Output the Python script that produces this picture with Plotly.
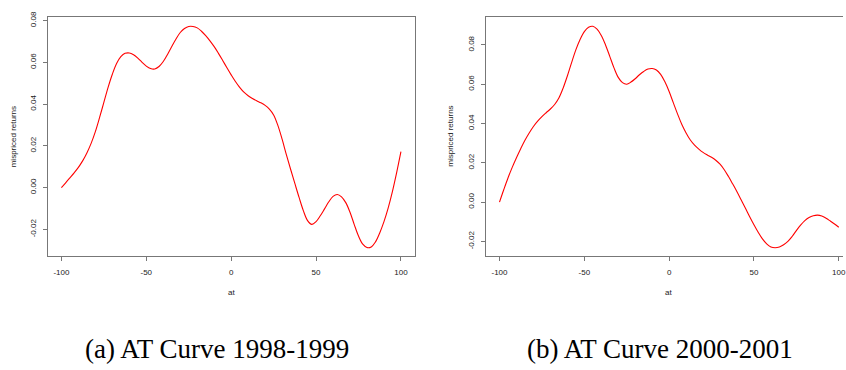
import plotly.graph_objects as go

# abnormal-trading grid shared by both periods (-100 .. 100 in steps of 2.5)
at_grid = [-100 + 2.5 * i for i in range(81)]

# AT curve 1998-1999
ret_a = [0.0000, 0.0023, 0.0047, 0.0071, 0.0097, 0.0128, 0.0166, 0.0212, 0.0268, 0.0336,
         0.0408, 0.0480, 0.0543, 0.0594, 0.0627, 0.0643, 0.0645, 0.0636, 0.0620, 0.0600,
         0.0582, 0.0570, 0.0568, 0.0580, 0.0604, 0.0638, 0.0676, 0.0712, 0.0743, 0.0762,
         0.0772, 0.0772, 0.0765, 0.0749, 0.0728, 0.0703, 0.0675, 0.0643, 0.0609, 0.0574,
         0.0540, 0.0508, 0.0480, 0.0457, 0.0440, 0.0427, 0.0416, 0.0406, 0.0394, 0.0376,
         0.0348, 0.0298, 0.0232, 0.0158, 0.0088, 0.0020, -0.0047, -0.0110, -0.0158, -0.0176,
         -0.0163, -0.0135, -0.0102, -0.0068, -0.0042, -0.0033, -0.0044, -0.0072, -0.0118, -0.0177,
         -0.0232, -0.0271, -0.0287, -0.0284, -0.0260, -0.0217, -0.0163, -0.0097, -0.0018, 0.0073,
         0.0172]

# AT curve 2000-2001
ret_b = [0.0000, 0.0063, 0.0123, 0.0177, 0.0226, 0.0272, 0.0315, 0.0352, 0.0385, 0.0412,
         0.0435, 0.0455, 0.0474, 0.0497, 0.0530, 0.0580, 0.0642, 0.0710, 0.0775, 0.0828,
         0.0868, 0.0890, 0.0895, 0.0880, 0.0848, 0.0800, 0.0742, 0.0683, 0.0635, 0.0608,
         0.0600, 0.0611, 0.0628, 0.0648, 0.0665, 0.0677, 0.0680, 0.0672, 0.0650, 0.0612,
         0.0563, 0.0505, 0.0448, 0.0395, 0.0352, 0.0316, 0.0290, 0.0270, 0.0253, 0.0240,
         0.0228, 0.0213, 0.0193, 0.0165, 0.0130, 0.0092, 0.0053, 0.0011, -0.0031, -0.0074,
         -0.0115, -0.0153, -0.0187, -0.0212, -0.0228, -0.0232, -0.0228, -0.0217, -0.0200, -0.0175,
         -0.0145, -0.0117, -0.0094, -0.0078, -0.0069, -0.0066, -0.0071, -0.0082, -0.0096, -0.0111,
         -0.0128]

x_ticks = [-100, -50, 0, 50, 100]
y_ticks_a = [-0.02, 0.00, 0.02, 0.04, 0.06, 0.08]
y_ticks_b = [-0.02, 0.00, 0.02, 0.04, 0.06, 0.08]
captions = ["(a) AT Curve 1998-1999", "(b) AT Curve 2000-2001"]

W, H = 846, 370
tick_font = dict(family="Liberation Sans, Arial, sans-serif", size=8, color="#222")
box_col = "#777"

fig = go.Figure()
fig.add_trace(go.Scatter(x=at_grid, y=ret_a, mode="lines", xaxis="x", yaxis="y",
                         line=dict(color="#ff0000", width=1.1, shape="spline", smoothing=1.0),
                         showlegend=False, hoverinfo="skip"))
fig.add_trace(go.Scatter(x=at_grid, y=ret_b, mode="lines", xaxis="x2", yaxis="y2",
                         line=dict(color="#ff0000", width=1.1, shape="spline", smoothing=1.0),
                         showlegend=False, hoverinfo="skip"))


def px_x(p):
    return p / W


def px_y(p):
    return 1 - p / H


common_x = dict(tickvals=x_ticks, ticktext=[str(v) for v in x_ticks], ticks="outside",
                ticklen=4, tickcolor=box_col, tickfont=tick_font, showgrid=False,
                zeroline=False, showline=True, linecolor=box_col, linewidth=1,
                ticklabelstandoff=5, ticklabeloverflow="allow", fixedrange=True)
common_y = dict(ticks="outside", ticklen=4, tickcolor=box_col, tickfont=tick_font,
                tickangle=-90, showgrid=False, zeroline=False, showline=True,
                linecolor=box_col, linewidth=1, ticklabelstandoff=4, fixedrange=True)

fig.update_layout(
    width=W, height=H, margin=dict(l=0, r=0, t=0, b=0),
    paper_bgcolor="white", plot_bgcolor="white",
    xaxis=dict(common_x, domain=[px_x(48), px_x(416)], range=[-108, 108],
               anchor="y", mirror=True),
    yaxis=dict(common_y, domain=[px_y(254), px_y(11)], range=[-0.0327, 0.0818],
               tickvals=y_ticks_a, ticktext=[f"{v:.2f}" for v in y_ticks_a],
               anchor="x", mirror=True),
    xaxis2=dict(common_x, domain=[px_x(488), 1.0], range=[-107.8, 102.5],
                anchor="y2", mirror=True),
    yaxis2=dict(common_y, domain=[px_y(254), px_y(11)], range=[-0.02735, 0.0943],
                tickvals=y_ticks_b, ticktext=[f"{v:.2f}" for v in y_ticks_b],
                anchor="x2", mirror=False),
)

label_font = dict(family="Liberation Sans, Arial, sans-serif", size=8, color="#222")
annotations = []
# axis titles
for xc, yx in [(232, 13), (671, 452)]:
    annotations.append(dict(text="at", x=px_x(xc), y=px_y(291), xref="paper", yref="paper",
                            showarrow=False, font=label_font, xanchor="center", yanchor="middle"))
    annotations.append(dict(text="mispriced returns", x=px_x(yx), y=px_y(132.5), xref="paper",
                            yref="paper", showarrow=False, font=label_font, textangle=-90,
                            xanchor="center", yanchor="middle"))
# sub-figure captions
for xc, cap in zip([218, 662], captions):
    annotations.append(dict(text=cap, x=px_x(xc), y=px_y(349), xref="paper", yref="paper",
                            showarrow=False, xanchor="center", yanchor="middle",
                            font=dict(family="Liberation Serif, Times New Roman, serif",
                                      size=27, color="black")))
fig.update_layout(annotations=annotations)

fig.write_html("out.html", config={"displayModeBar": False})
